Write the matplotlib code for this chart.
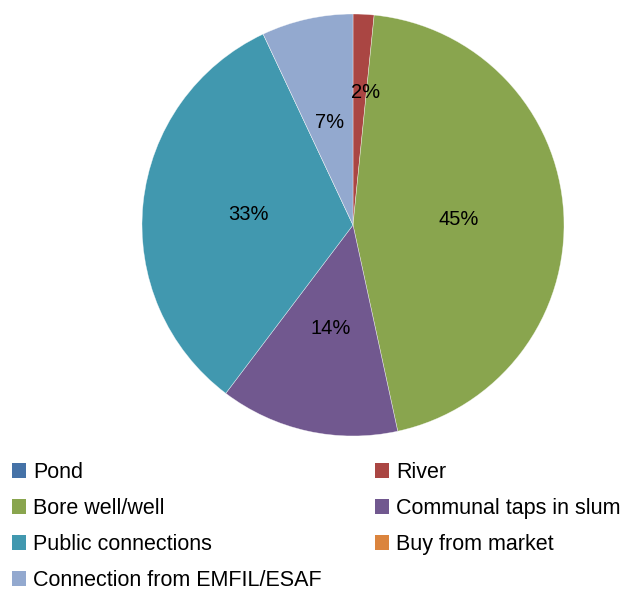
import numpy as np
import matplotlib
matplotlib.use("Agg")
import matplotlib.pyplot as plt

plt.rcParams['font.family'] = ['Liberation Sans', 'DejaVu Sans']

sources = ["Pond", "River", "Bore well/well", "Communal taps in slum",
           "Public connections", "Buy from market", "Connection from EMFIL/ESAF"]
shares = [0.0, 1.6, 45.0, 13.7, 32.7, 0.0, 7.0]
colors = ["#4572A7", "#AA4643", "#89A54E", "#71588F", "#4198AF", "#DB843D", "#93A9CF"]

W, H = 626, 592
fig = plt.figure(figsize=(W / 100, H / 100), dpi=100)

# pie centred at (353, 225) px, radius 211 px
cx, cy, r = 353, 225, 211
ax = fig.add_axes([(cx - r) / W, (H - cy - r) / H, 2 * r / W, 2 * r / H])


def pct_label(p):
    return f"{p:.0f}%" if p > 0.05 else ""


wedges, texts, autotexts = ax.pie(
    shares, colors=colors, startangle=90, counterclock=False,
    autopct=pct_label, pctdistance=0.5, radius=1.0,
    wedgeprops=dict(linewidth=0.4, edgecolor=(1, 1, 1, 0.6)),
    textprops=dict(fontsize=14.5, color="black"))

# the thin River slice gets its label pushed further out
w = wedges[1]
mid = np.deg2rad((w.theta1 + w.theta2) / 2 - 2.5)
autotexts[1].set_position((0.63 * np.cos(mid), 0.63 * np.sin(mid)))

ax.set_xlim(-1, 1)
ax.set_ylim(-1, 1)
ax.set_aspect("equal")
ax.axis("off")

# legend laid out row by row in two columns
left_idx = [0, 2, 4, 6]
right_idx = [1, 3, 5]
leg_kw = dict(frameon=False, fontsize=15.5, handlelength=0.65, handleheight=0.65,
              handletextpad=0.33, labelspacing=0.70, borderpad=0, borderaxespad=0,
              loc="upper left")
leg1 = fig.legend([wedges[i] for i in left_idx], [sources[i] for i in left_idx],
                  bbox_to_anchor=(12 / W, 1 - 462 / H), **leg_kw)
leg2 = fig.legend([wedges[i] for i in right_idx], [sources[i] for i in right_idx],
                  bbox_to_anchor=(375 / W, 1 - 462 / H), **leg_kw)
for leg in (leg1, leg2):
    for h in leg.legend_handles:
        h.set_linewidth(0)

fig.savefig("out.png", dpi=100)
